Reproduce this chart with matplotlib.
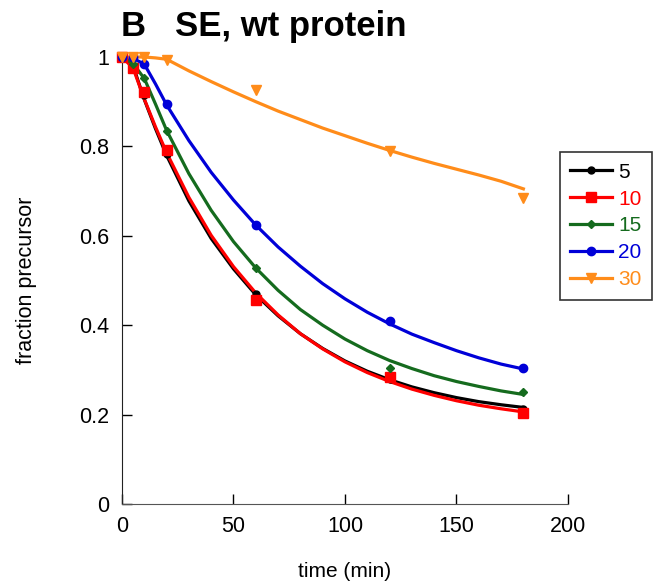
import matplotlib
matplotlib.use("Agg")
import matplotlib.pyplot as plt
from matplotlib.lines import Line2D
from matplotlib.ticker import FuncFormatter

plt.rcParams['font.family'] = ['Liberation Sans', 'DejaVu Sans']

# measured points
t_pts = [0, 5, 10, 20, 60, 120, 180]
labels = ['5', '10', '15', '20', '30']
pts = {
    '5':  [1.0, 0.980, 0.915, 0.783, 0.470, 0.280, 0.213],
    '10': [1.0, 0.975, 0.922, 0.792, 0.456, 0.283, 0.203],
    '15': [1.0, 0.985, 0.953, 0.834, 0.528, 0.305, 0.250],
    '20': [1.0, 1.000, 0.984, 0.895, 0.624, 0.409, 0.304],
    '30': [1.0, 1.000, 1.000, 0.993, 0.926, 0.790, 0.685],
}
# fitted curves
t_fit = [0, 5, 10, 15, 20, 30, 40, 50, 60, 70, 80, 90, 100, 110, 120, 130, 140, 150, 160, 170, 180]
fit = {
    '5':  [1.0, 0.980, 0.905, 0.840, 0.780, 0.678, 0.594, 0.526, 0.468, 0.421, 0.381, 0.348, 0.320, 0.297, 0.278, 0.262, 0.249, 0.238, 0.229, 0.222, 0.216],
    '10': [1.0, 0.975, 0.906, 0.844, 0.786, 0.686, 0.601, 0.531, 0.472, 0.423, 0.381, 0.347, 0.318, 0.294, 0.274, 0.257, 0.243, 0.231, 0.221, 0.213, 0.206],
    '15': [1.0, 0.985, 0.952, 0.895, 0.836, 0.739, 0.657, 0.587, 0.528, 0.478, 0.435, 0.400, 0.369, 0.343, 0.321, 0.303, 0.287, 0.274, 0.263, 0.253, 0.245],
    '20': [1.0, 0.997, 0.984, 0.940, 0.893, 0.813, 0.742, 0.680, 0.624, 0.575, 0.532, 0.493, 0.459, 0.429, 0.403, 0.380, 0.361, 0.343, 0.327, 0.313, 0.302],
    '30': [1.0, 1.000, 1.000, 0.998, 0.995, 0.969, 0.945, 0.922, 0.900, 0.879, 0.860, 0.841, 0.824, 0.807, 0.791, 0.776, 0.762, 0.749, 0.736, 0.722, 0.705],
}
colors = {'5': '#000000', '10': '#ff0000', '15': '#156b1e', '20': '#0000d8', '30': '#ff8c1a'}
markers = {'5': 'o', '10': 's', '15': 'D', '20': 'o', '30': 'v'}
msizes = {'5': 5, '10': 6.5, '15': 4.5, '20': 6, '30': 6.5}

fig = plt.figure(figsize=(6.53, 5.87), dpi=100)
ax = fig.add_axes([0.1868, 0.1414, 0.683, 0.7615])

handles = []
for lab in labels:
    c = colors[lab]
    ax.plot(t_fit, fit[lab], color=c, lw=2.3, zorder=2, clip_on=False)
    ax.plot(t_pts, pts[lab], linestyle='none', marker=markers[lab], ms=msizes[lab],
            color=c, zorder=3, clip_on=False)
    handles.append(Line2D([], [], color=c, lw=2.3, marker=markers[lab], ms=msizes[lab]))

ax.set_xlim(0, 200)
ax.set_ylim(0, 1)
ax.set_xticks([0, 50, 100, 150, 200])
ax.set_yticks([0, 0.2, 0.4, 0.6, 0.8, 1.0])
ax.yaxis.set_major_formatter(FuncFormatter(lambda v, p: '%g' % v))
ax.tick_params(direction='in', length=7, width=1, labelsize=15.5)
ax.tick_params(axis='y', pad=9)
ax.tick_params(axis='x', pad=9)
for s in ['top', 'right']:
    ax.spines[s].set_visible(False)
ax.spines['bottom'].set_color('#555555')
ax.spines['left'].set_color('#222222')

ax.set_xlabel('time (min)', fontsize=15)
ax.set_ylabel('fraction precursor', fontsize=15.5)
ax.xaxis.set_label_coords((345 - 122) / 446, (504 - 562) / 447)
ax.yaxis.set_label_coords((37 - 122) / 446, 0.5)

fig.text(0.186, 0.955, 'B   SE, wt protein', fontsize=25, fontweight='bold', va='center', ha='left')

leg = ax.legend(handles, labels, loc='upper left', bbox_to_anchor=(0.982, 0.787),
                fontsize=15, frameon=True, fancybox=False, edgecolor='black',
                handlelength=2.0, handletextpad=0.3, borderpad=0.5, labelspacing=0.38,
                borderaxespad=0)
leg.get_frame().set_linewidth(1.2)
for txt, lab in zip(leg.get_texts(), labels):
    txt.set_color(colors[lab])

fig.savefig('out.png', dpi=100)
